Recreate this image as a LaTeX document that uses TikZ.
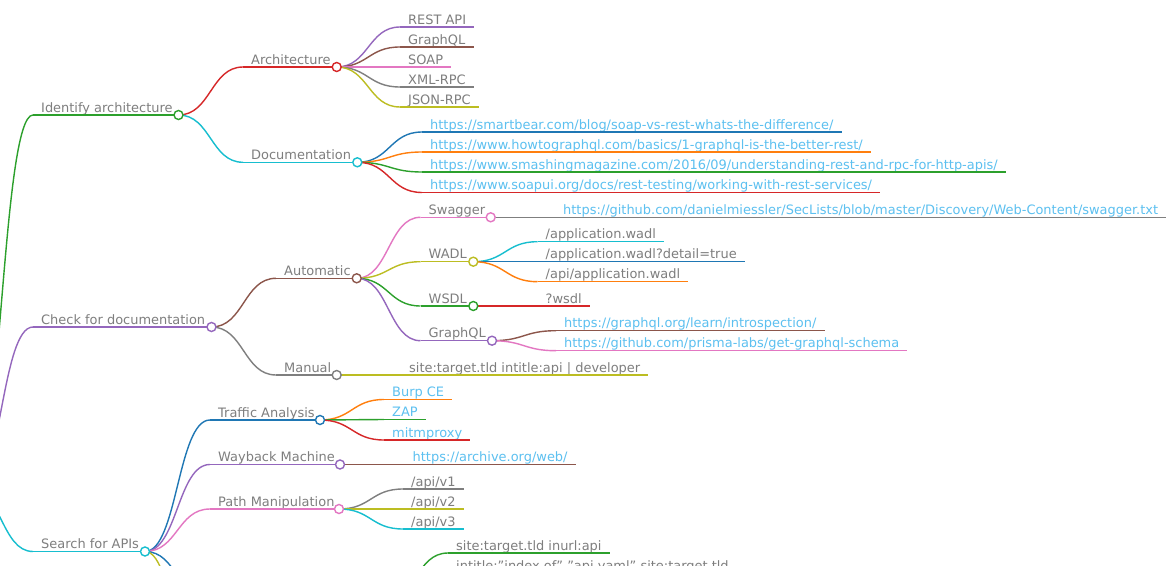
\documentclass[tikz,border=0pt]{standalone}
\usepackage{fontspec}
\setmainfont{DejaVu Sans}
\usetikzlibrary{calc}
\definecolor{mblue}{HTML}{1F77B4}
\definecolor{morange}{HTML}{FF7F0E}
\definecolor{mgreen}{HTML}{2CA02C}
\definecolor{mred}{HTML}{D62728}
\definecolor{mpurple}{HTML}{9467BD}
\definecolor{mbrown}{HTML}{8C564B}
\definecolor{mpink}{HTML}{E377C2}
\definecolor{mgray}{HTML}{7F7F7F}
\definecolor{molive}{HTML}{BCBD22}
\definecolor{mcyan}{HTML}{17BECF}
\definecolor{txtgray}{HTML}{7E7E7E}
\definecolor{lnkblue}{HTML}{5CC0F0}
\tikzset{
  edge/.style={line width=1.4bp},
  lbl/.style={font=\fontsize{13}{15}\selectfont, text=txtgray, anchor=base west, inner sep=0pt},
  lnk/.style={lbl, text=lnkblue},
  dot/.style={circle, fill=white, line width=1.4bp, minimum size=9bp, inner sep=0pt},
  link/.style={to path={let \p1=(\tikztostart), \p2=(\tikztotarget) in
     .. controls ({0.5*\x1+0.5*\x2},\y1) and ({0.5*\x1+0.5*\x2},\y2) .. (\tikztotarget)}}
}
% name, parent, colour, x, y, circle x, style, text
\newcommand{\mminner}[8]{%
  \coordinate (#1s) at (#4,#5);
  \coordinate (#1) at (#6,#5);
  \node[#7] (#1t) at ({#4+8},{#5-2.7}) {#8};
  \draw[edge,#3] (#2) to[link] (#1s);
  \draw[edge,#3] (#1s) -- (#1);
}
% name, parent, colour, x, y, style, text
\newcommand{\mmleaf}[7]{%
  \coordinate (#1s) at (#4,#5);
  \node[#6] (#1t) at ({#4+8},{#5-2.7}) {#7};
  \draw[edge,#3] (#2) to[link] (#1s);
  \draw[edge,#3] (#1s) -- (#1s -| #1t.east) -- ++(8,0);
}
\newcommand{\dq}{\symbol{34}}
\begin{document}
\begin{tikzpicture}[x=1bp,y=-1bp]
\useasboundingbox (0,0) rectangle (1167,566);
\clip (0,0) rectangle (1167,566);
\fill[white] (0,0) rectangle (1167,566);
\coordinate (root) at (-30,489);
% level 1
\mminner{ia}{root}{mgreen}{33}{115}{178.5}{lbl}{Identify architecture}
\mminner{cd}{root}{mpurple}{33}{327}{211.5}{lbl}{Check for documentation}
\mminner{sa}{root}{mcyan}{33}{551.5}{145}{lbl}{Search for APIs}
% Identify architecture
\mminner{arch}{ia}{mred}{243}{67}{336.7}{lbl}{Architecture}
\mminner{doc}{ia}{mcyan}{243}{162.3}{357.3}{lbl}{Documentation}
\mmleaf{rest}{arch}{mpurple}{400}{27}{lbl}{REST API}
\mmleaf{gqla}{arch}{mbrown}{400}{47}{lbl}{GraphQL}
\mmleaf{soap}{arch}{mpink}{400}{67}{lbl}{SOAP}
\mmleaf{xml}{arch}{mgray}{400}{87}{lbl}{XML-RPC}
\mmleaf{json}{arch}{molive}{400}{107}{lbl}{JSON-RPC}
\mmleaf{ua}{doc}{mblue}{422}{132}{lnk}{https://smartbear.com/blog/soap-vs-rest-whats-the-difference/}
\mmleaf{ub}{doc}{morange}{422}{152}{lnk}{https://www.howtographql.com/basics/1-graphql-is-the-better-rest/}
\mmleaf{uc}{doc}{mgreen}{422}{172}{lnk}{https://www.smashingmagazine.com/2016/09/understanding-rest-and-rpc-for-http-apis/}
\mmleaf{ud}{doc}{mred}{422}{192.5}{lnk}{https://www.soapui.org/docs/rest-testing/working-with-rest-services/}
% Check for documentation
\mminner{auto}{cd}{mbrown}{276}{278.3}{356.7}{lbl}{Automatic}
\mminner{man}{cd}{mgray}{276}{375}{336.7}{lbl}{Manual}
\mminner{swag}{auto}{mpink}{420.5}{217.3}{490.7}{lbl}{Swagger}
\mminner{wadl}{auto}{molive}{420.5}{261.7}{473.3}{lbl}{WADL}
\mminner{wsdl}{auto}{mgreen}{420.5}{306}{473.3}{lbl}{WSDL}
\mminner{gqlb}{auto}{mpurple}{420.5}{340.7}{492}{lbl}{GraphQL}
\mmleaf{sw}{swag}{mgray}{555}{217.3}{lnk}{https://github.com/danielmiessler/SecLists/blob/master/Discovery/Web-Content/swagger.txt}
\mmleaf{wa}{wadl}{mcyan}{537.5}{241.7}{lbl}{/application.wadl}
\mmleaf{wb}{wadl}{mblue}{537.5}{261.7}{lbl}{/application.wadl?detail=true}
\mmleaf{wc}{wadl}{morange}{537.5}{281.7}{lbl}{/api/application.wadl}
\mmleaf{ws}{wsdl}{mred}{537.5}{306}{lbl}{?wsdl}
\mmleaf{ga}{gqlb}{mbrown}{556}{330.7}{lnk}{https://graphql.org/learn/introspection/}
\mmleaf{gb}{gqlb}{mpink}{556}{350.7}{lnk}{https://github.com/prisma-labs/get-graphql-schema}
\mmleaf{mn}{man}{molive}{401}{375}{lbl}{site:target.tld intitle:api | developer}
% Search for APIs
\mminner{ta}{sa}{mblue}{210}{420}{320}{lbl}{Traffic Analysis}
\mminner{wm}{sa}{mpurple}{210}{464.5}{340}{lbl}{Wayback Machine}
\mminner{pm}{sa}{mpink}{210}{509}{339}{lbl}{Path Manipulation}
\coordinate (gds) at (210,600);
\coordinate (gd) at (384,600);
\draw[edge,mblue] (sa) to[link] (gds);
\draw[edge,mblue] (gds) -- (gd);
\coordinate (ols) at (210,720);
\draw[edge,molive] (sa) to[link] (ols);
\mmleaf{burp}{ta}{morange}{384}{399.5}{lnk}{Burp CE}
\mmleaf{zap}{ta}{mgreen}{384}{419.5}{lnk}{ZAP}
\mmleaf{mitm}{ta}{mred}{384}{440}{lnk}{mitmproxy}
\mmleaf{arc}{wm}{mbrown}{404.5}{464.5}{lnk}{https://archive.org/web/}
\mmleaf{va}{pm}{mgray}{403}{489}{lbl}{/api/v1}
\mmleaf{vb}{pm}{molive}{403}{509}{lbl}{/api/v2}
\mmleaf{vc}{pm}{mcyan}{403}{529}{lbl}{/api/v3}
\mmleaf{da}{gd}{mgreen}{448}{553}{lbl}{site:target.tld inurl:api}
\mmleaf{db}{gd}{mred}{448}{573}{lbl}{intitle:\dq index of\dq{} \dq api.yaml\dq{} site:target.tld}
% circles
\foreach \n/\c in {ia/mgreen,cd/mpurple,sa/mcyan,arch/mred,doc/mcyan,auto/mbrown,man/mgray,swag/mpink,wadl/molive,wsdl/mgreen,gqlb/mpurple,ta/mblue,wm/mpurple,pm/mpink}
  {\node[dot,draw=\c] (dot\n) at (\n) {};}
\end{tikzpicture}
\end{document}
